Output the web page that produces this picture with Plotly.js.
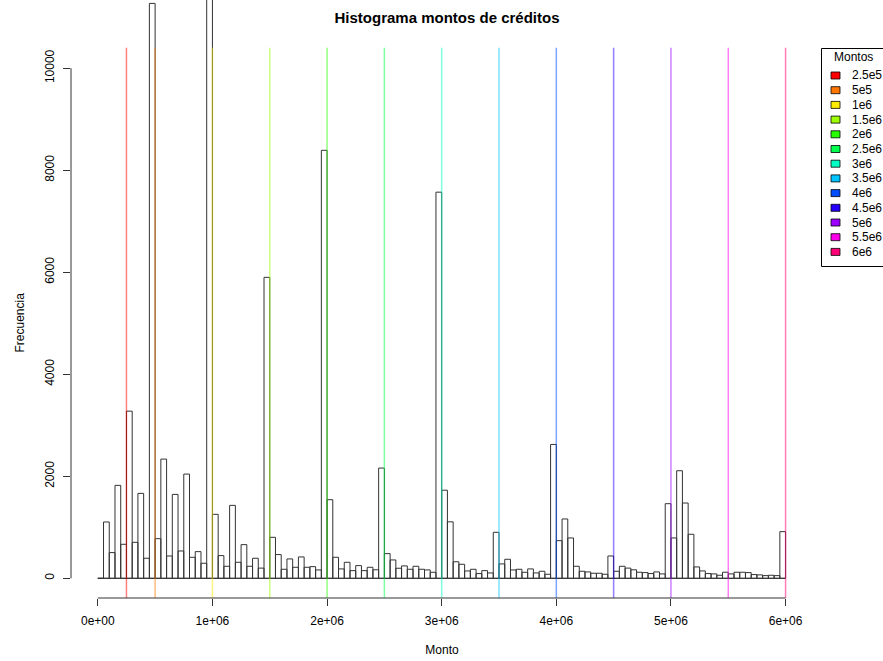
<!DOCTYPE html>
<html>
<head>
<meta charset="utf-8">
<script src="https://cdn.plot.ly/plotly-3.0.1.min.js"></script>
<style>html,body{margin:0;padding:0;background:#fff;}#chart{width:883px;height:661px;}</style>
</head>
<body>
<div id="chart"></div>
<script>
// ---- data ----
const binStart = 0;
const binWidth = 50000;
const counts = [
  0, 1104, 504, 1822, 667, 3277, 706, 1665, 393, 11270,
  777, 2337, 438, 1645, 536, 2043, 412, 523, 295, 12500,
  1254, 445, 236, 1430, 314, 660, 236, 393, 200, 5900,
  804, 465, 177, 380, 216, 419, 216, 229, 164, 8390,
  1541, 412, 184, 314, 151, 249, 151, 216, 167, 2161,
  484, 360, 197, 243, 177, 236, 177, 164, 118, 7570,
  1727, 1107, 324, 275, 144, 177, 93, 151, 105, 902,
  282, 373, 164, 177, 118, 184, 105, 138, 79, 2624,
  738, 1163, 791, 236, 138, 125, 99, 99, 79, 438,
  138, 236, 200, 167, 119, 112, 93, 125, 86, 1463,
  791, 2109, 1476, 863, 223, 145, 93, 86, 60, 119,
  86, 119, 119, 112, 73, 67, 53, 60, 53, 915
];
const lineValues = [250000, 500000, 1000000, 1500000, 2000000, 2500000, 3000000,
                    3500000, 4000000, 4500000, 5000000, 5500000, 6000000];
const lineLabels = ["2.5e5", "5e5", "1e6", "1.5e6", "2e6", "2.5e6", "3e6",
                    "3.5e6", "4e6", "4.5e6", "5e6", "5.5e6", "6e6"];
const lineTop = 10400;
const xTickVals = [0, 1000000, 2000000, 3000000, 4000000, 5000000, 6000000];
const xTickText = ["0e+00", "1e+06", "2e+06", "3e+06", "4e+06", "5e+06", "6e+06"];
const yTickVals = [0, 2000, 4000, 6000, 8000, 10000];
const yTickText = ["0", "2000", "4000", "6000", "8000", "10000"];

// ---- styles ----
const lineColors = ["#FF0000", "#FF7600", "#FFEB00", "#9DFF00", "#27FF00", "#00FF4E", "#00FFC4",
                    "#00C4FF", "#004EFF", "#2700FF", "#9D00FF", "#FF00EB", "#FF0076"];
const FONT = "Liberation Sans, Arial, Helvetica, sans-serif";
const AX = "#333333";

// ---- geometry helpers (pixel -> paper) ----
const W = 883, H = 661, ML = 71, MR = 70, MT = 0, MB = 63;
const PW = W - ML - MR, PH = H - MT - MB;
const px = v => (v - ML) / PW;
const py = v => (H - MB - v) / PH;

// ---- bars ----
const centers = counts.map((c, i) => binStart + binWidth * (i + 0.5));
const edges = counts.map((c, i) => binStart + binWidth * i).concat([binStart + binWidth * counts.length]);

const traces = [{
  type: "bar",
  x: centers,
  y: counts,
  width: counts.map(() => binWidth),
  marker: { color: "rgba(0,0,0,0)", line: { color: AX, width: 1 } },
  hoverinfo: "x+y",
  showlegend: false
}];

const xRange = [-233800, 6239200];
const yRange = [-386, 11337];

const shapes = [];
// baseline of the histogram (zero-count bins)
shapes.push({ type: "line", xref: "x", yref: "y", x0: edges[0], x1: edges[edges.length - 1], y0: 0, y1: 0,
  line: { color: AX, width: 1 } });
// vertical reference lines
lineValues.forEach((v, i) => {
  shapes.push({ type: "line", xref: "x", yref: "y", x0: v, x1: v, y0: yRange[0], y1: lineTop,
    line: { color: lineColors[i], width: 1.5 }, opacity: 0.5, layer: "above" });
});
// axis lines (R style, only between first and last tick)
shapes.push({ type: "line", xref: "x", yref: "paper", x0: xTickVals[0], x1: xTickVals[xTickVals.length - 1], y0: 0, y1: 0,
  line: { color: AX, width: 1 } });
shapes.push({ type: "line", xref: "paper", yref: "y", x0: 0, x1: 0, y0: yTickVals[0], y1: yTickVals[yTickVals.length - 1],
  line: { color: AX, width: 1 } });

const annotations = [];
// y-axis title, centred on the R plot region
annotations.push({ xref: "paper", yref: "paper", x: px(20), y: py(322.5), text: "Frecuencia", textangle: -90,
  showarrow: false, xanchor: "center", yanchor: "middle", font: { family: FONT, size: 12, color: "#000" } });

// legend (drawn R-style)
shapes.push({ type: "rect", xref: "paper", yref: "paper", x0: px(821.5), x1: px(905), y0: py(266.5), y1: py(48.5),
  line: { color: "#000", width: 1 }, fillcolor: "rgba(0,0,0,0)" });
annotations.push({ xref: "paper", yref: "paper", x: px(854), y: py(57.5), text: "Montos", showarrow: false,
  xanchor: "center", yanchor: "middle", font: { family: FONT, size: 12, color: "#000" } });
lineLabels.forEach((lab, i) => {
  const cy = 75.5 + i * 14.7;
  shapes.push({ type: "rect", xref: "paper", yref: "paper", x0: px(831), x1: px(840), y0: py(cy + 3.5), y1: py(cy - 3.5),
    line: { color: "#000", width: 0.8 }, fillcolor: lineColors[i] });
  annotations.push({ xref: "paper", yref: "paper", x: px(849.5), y: py(cy), text: lab, showarrow: false,
    xanchor: "left", yanchor: "middle", font: { family: FONT, size: 12, color: "#000" } });
});

const layout = {
  width: W, height: H,
  margin: { l: ML, r: MR, t: MT, b: MB, pad: 0 },
  paper_bgcolor: "#fff", plot_bgcolor: "#fff",
  showlegend: false,
  bargap: 0,
  font: { family: FONT, size: 12, color: "#000" },
  title: { text: "<b>Histograma montos de créditos</b>", font: { family: FONT, size: 15, color: "#000" },
    x: 447 / W, xref: "container", xanchor: "center", y: 1 - 18 / H, yref: "container", yanchor: "middle" },
  xaxis: {
    range: xRange, showgrid: false, zeroline: false, showline: false,
    tickmode: "array", tickvals: xTickVals, ticktext: xTickText,
    ticks: "outside", ticklen: 7, tickwidth: 1, tickcolor: AX, ticklabelstandoff: 5,
    tickfont: { family: FONT, size: 12, color: "#000" },
    title: { text: "Monto", font: { family: FONT, size: 12, color: "#000" }, standoff: 18 },
    automargin: false, fixedrange: true
  },
  yaxis: {
    range: yRange, showgrid: false, zeroline: false, showline: false,
    tickmode: "array", tickvals: yTickVals, ticktext: yTickText, tickangle: -90,
    ticks: "outside", ticklen: 7, tickwidth: 1, tickcolor: AX, ticklabelstandoff: 4,
    tickfont: { family: FONT, size: 12, color: "#000" },
    automargin: false, fixedrange: true
  },
  shapes: shapes,
  annotations: annotations
};

Plotly.newPlot("chart", traces, layout, { displayModeBar: false, staticPlot: true });
</script>
</body>
</html>
